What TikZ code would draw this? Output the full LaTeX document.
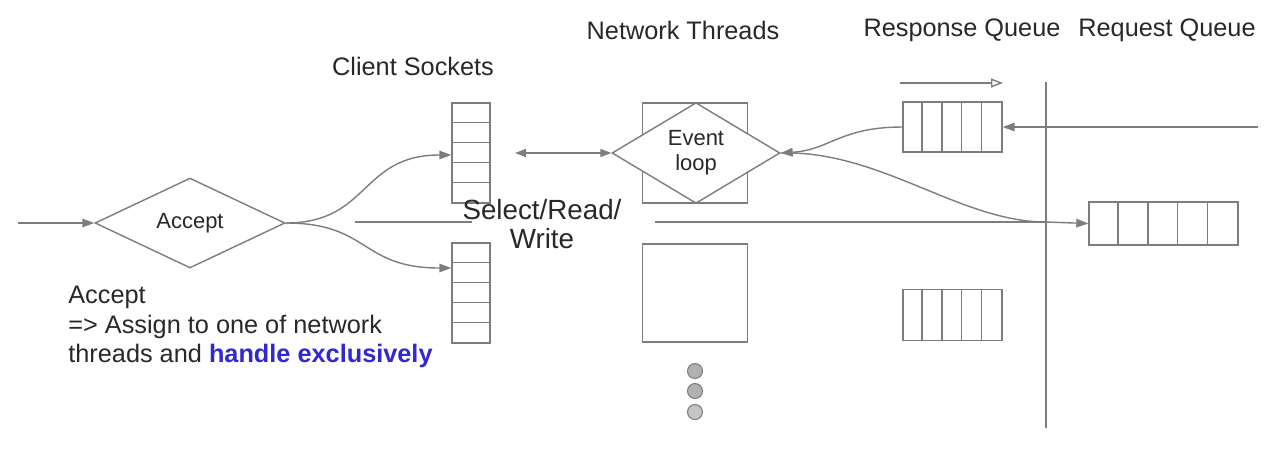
\documentclass[tikz,border=0pt]{standalone}
\usepackage{fontspec}
\setmainfont{Liberation Sans}
\usetikzlibrary{shapes.geometric,arrows.meta}
\definecolor{ln}{RGB}{125,125,125}
\definecolor{tx}{RGB}{40,40,40}
\definecolor{hb}{RGB}{50,40,210}
\begin{document}
\begin{tikzpicture}[x=0.02cm,y=-0.02cm,
  line/.style={draw=ln,line width=0.8pt},
  arr/.style={line,-{Triangle[length=2.4mm,width=1.7mm]}},
  lbl/.style={text=tx,font=\fontsize{14.4}{17}\selectfont,inner sep=0pt},
  dia/.style={diamond,line,inner sep=0pt,text=tx,align=center,font=\fontsize{12.5}{14.2}\selectfont},
  box/.style={line,rectangle,inner sep=0pt},
  dot/.style={circle,draw=ln,fill=ln!60,line width=0.6pt,minimum size=0.3cm,inner sep=0pt}]
\useasboundingbox (0,0) rectangle (1280,451);
% labels
\node[lbl] (lcs) at (413,66) {Client Sockets};
\node[lbl] (lnt) at (683,30) {Network Threads};
\node[lbl] (lrs) at (962,30) {Response Queue};
\node[lbl] (lrq) at (1167,30) {Request Queue};
% accept
\node[dia,minimum width=3.8cm,minimum height=1.8cm] (acc) at (190,223) {Accept};
\coordinate (in) at (18,223);
\draw[arr] (in) -- (acc.west);
% sockets
\node[box,minimum width=0.76cm,minimum height=2cm] (s1) at (471,153) {};
\node[box,minimum width=0.76cm,minimum height=2cm] (s2) at (471,293) {};
\foreach \k in {1,2,3,4}{
  \draw[line] ([yshift=-\k*0.4cm]s1.north west) -- ([yshift=-\k*0.4cm]s1.north east);
  \draw[line] ([yshift=-\k*0.4cm]s2.north west) -- ([yshift=-\k*0.4cm]s2.north east);
}
\draw[arr] (acc.east) .. controls (370,223) and (360,155) .. ([yshift=-0.04cm]s1.west);
\draw[arr] (acc.east) .. controls (370,223) and (360,268) .. ([yshift=0.5cm]s2.west);
% network threads
\node[box,minimum width=2.1cm,minimum height=2cm] (t1) at (695,153) {};
\node[box,minimum width=2.1cm,minimum height=1.96cm] (t2) at (695,293) {};
\node[dia,fill=white,minimum width=3.36cm,minimum height=1.96cm] (el) at (696,153) {Event\\loop};
\coordinate (da) at (515,153);
\draw[line,{Triangle[length=2.2mm,width=1.6mm]}-{Triangle[length=2.2mm,width=1.6mm]}] (da) -- (el.west);
\node[dot] (d1) at (695,371) {};
\node[dot] (d2) at (695,391) {};
\node[dot,fill=ln!45] (d3) at (695,412) {};
% select read write
\node[text=tx,font=\fontsize{15.8}{17}\selectfont,align=center,inner sep=0pt] (srw) at (542,224) {Select/Read/\\Write};
\coordinate (h1) at (355,222);
\coordinate (h2) at (472,222);
\coordinate (h3) at (655,222);
\coordinate (j) at (1046,222);
\draw[line] (h1) -- (h2);
\draw[line] (h3) -- (j);
% divider
\coordinate (v1) at (1046,82);
\coordinate (v2) at (1046,428);
\draw[line] (v1) -- (v2);
% response queues
\node[box,minimum width=1.98cm,minimum height=1cm] (r1) at (952.5,127) {};
\node[box,minimum width=1.98cm,minimum height=1.02cm] (r2) at (952.5,315) {};
\foreach \k in {1,2,3,4}{
  \draw[line] ([xshift=\k*0.396cm]r1.north west) -- ([xshift=\k*0.396cm]r1.south west);
  \draw[line] ([xshift=\k*0.396cm]r2.north west) -- ([xshift=\k*0.396cm]r2.south west);
}
\coordinate (ta) at (900,83);
\coordinate (tb) at (1003,83);
\draw[line,-{Triangle[open,length=2.4mm,width=1.8mm]}] (ta) -- (tb);
\coordinate (rin) at (1258,127);
\draw[arr] (rin) -- (r1.east);
\draw[arr] (r1.west) .. controls (840,127) and (830,150) .. (el.east);
% request queue
\node[box,minimum width=2.98cm,minimum height=0.86cm] (rq) at (1163.5,223.5) {};
\foreach \k in {1,2,3,4}{
  \draw[line] ([xshift=\k*0.596cm]rq.north west) -- ([xshift=\k*0.596cm]rq.south west);
}
\draw[line] (el.east) .. controls (880,150) and (960,222) .. (j);
\draw[arr] (j) -- (rq.west);
% note
\node[lbl,align=left,anchor=north west,font=\fontsize{14.4}{16.8}\selectfont] (note) at (68,286)
  {Accept\\=> Assign to one of network\\threads and \textcolor{hb}{\bfseries handle exclusively}};
\end{tikzpicture}
\end{document}
